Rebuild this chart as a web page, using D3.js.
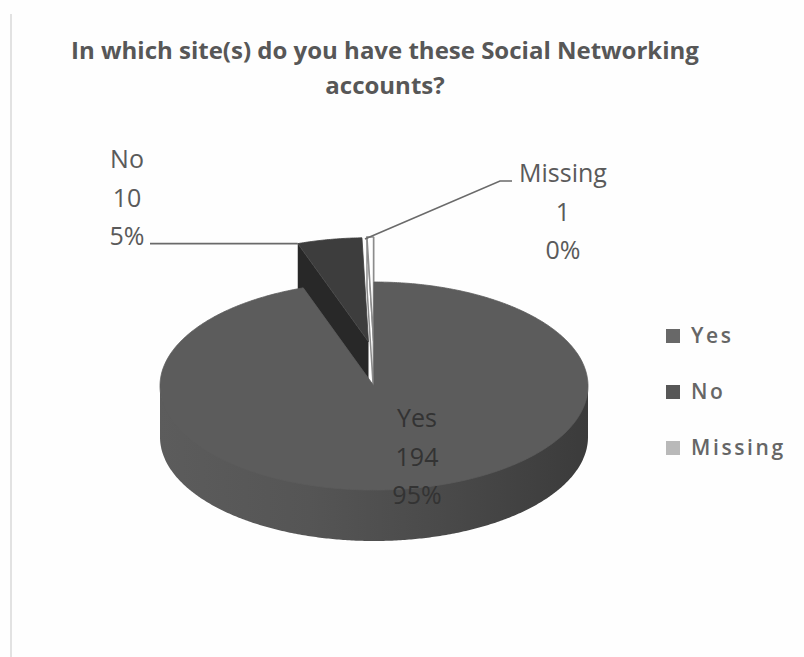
<!DOCTYPE html>
<html>
<head>
<meta charset="utf-8">
<script src="https://cdn.jsdelivr.net/npm/d3@7"></script>
<style>
  html, body { margin: 0; padding: 0; background: #ffffff; }
  svg { display: block; }
</style>
</head>
<body>
<svg id="chart" width="804" height="657"></svg>
<script>
// Survey answers
const categories = ["Yes", "No", "Missing"];
const counts = [194, 10, 1];
const titleLines = ["In which site(s) do you have these Social Networking", "accounts?"];

// Series colours (top face); the outer wall uses a shaded gradient
const topColors = ["#5c5c5c", "#3d3d3d", "#ffffff"];
const sideColors = ["#474747", "#2c2c2c", "#ffffff"];
const legendColors = ["#686868", "#575757", "#b9b9b9"];
const explodeSlices = [false, true, true];

const W = 804, H = 657;
const svg = d3.select("#chart");

svg.append("rect").attr("width", W).attr("height", H).attr("fill", "#fefefe");
// chart area edge on the left
svg.append("line").attr("x1", 11).attr("x2", 11).attr("y1", 14).attr("y2", H)
  .attr("stroke", "#e2e2e2").attr("stroke-width", 2);

// Title
const title = svg.append("text")
  .attr("font-family", "'Open Sans', sans-serif")
  .attr("font-weight", 700)
  .attr("font-size", 24)
  .attr("fill", "#575757")
  .attr("text-anchor", "middle");
title.append("tspan").attr("x", 385).attr("y", 59).text(titleLines[0]);
title.append("tspan").attr("x", 385).attr("y", 94).text(titleLines[1]);

// 3D elliptical pie geometry
const cx = 374, cy = 386, rx = 214, ry = 104, depth = 51;
const explodeX = 30, explodeY = 45;

// shading of the outer wall: lit on the left, darker to the right
const defs = svg.append("defs");
const grad = defs.append("linearGradient").attr("id", "wallShade")
  .attr("gradientUnits", "userSpaceOnUse")
  .attr("x1", cx - rx).attr("x2", cx + rx).attr("y1", 0).attr("y2", 0);
[[0, "#5c5c5c"], [0.35, "#555555"], [0.65, "#4a4a4a"], [1, "#3b3b3b"]].forEach(([o, c]) =>
  grad.append("stop").attr("offset", o).attr("stop-color", c));

const total = d3.sum(counts);
const pct = d3.format(".0%");

const pie = d3.pie().sort(null).value(d => d.value);
const arcs = pie(categories.map((c, i) => ({ name: c, value: counts[i], i })));

function offsetOf(a) {
  if (!explodeSlices[a.data.i]) return [0, 0];
  const mid = (a.startAngle + a.endAngle) / 2;
  return [Math.sin(mid) * explodeX, -Math.cos(mid) * explodeY];
}
function rim(angle, off, dy = 0) {
  return [cx + rx * Math.sin(angle) + off[0], cy - ry * Math.cos(angle) + off[1] + dy];
}
function arcPoints(a0, a1, off, dy = 0) {
  const n = Math.max(2, Math.ceil(Math.abs(a1 - a0) / 0.01));
  return d3.range(n + 1).map(k => rim(a0 + (a1 - a0) * k / n, off, dy));
}
const line = d3.line();
const closed = pts => line(pts) + "Z";

const pieG = svg.append("g");

function drawSlice(a) {
  const i = a.data.i;
  const off = offsetOf(a);
  const apex = [cx + off[0], cy + off[1]];
  const apexB = [apex[0], apex[1] + depth];
  const g = pieG.append("g");
  const stroke = i === 2 ? "#8c8c8c" : "none";
  const sw = i === 2 ? 1.5 : 0;

  // cut face at the start angle
  const s0 = rim(a.startAngle, off), s0b = rim(a.startAngle, off, depth);
  g.append("path").attr("d", closed([apex, s0, s0b, apexB]))
    .attr("fill", i === 2 ? "#ffffff" : d3.color(sideColors[i]).darker(0.25))
    .attr("stroke", stroke).attr("stroke-width", sw).attr("stroke-linejoin", "round");

  if (i === 2) {
    const e0 = rim(a.endAngle, off), e0b = rim(a.endAngle, off, depth);
    g.append("path").attr("d", closed([apex, e0, e0b, apexB]))
      .attr("fill", "#ffffff").attr("stroke", stroke).attr("stroke-width", sw);
  }

  // outer wall, front half only (angles between pi/2 and 3pi/2)
  const f0 = Math.max(a.startAngle, Math.PI / 2), f1 = Math.min(a.endAngle, 3 * Math.PI / 2);
  if (f1 > f0) {
    const topArc = arcPoints(f0, f1, off, -2);
    const botArc = arcPoints(f1, f0, off, depth);
    g.append("path").attr("d", closed(topArc.concat(botArc)))
      .attr("fill", i === 0 ? "url(#wallShade)" : sideColors[i]);
  }

  // top face
  g.append("path").attr("d", closed([apex].concat(arcPoints(a.startAngle, a.endAngle, off))))
    .attr("fill", topColors[i])
    .attr("stroke", i === 2 ? stroke : topColors[i])
    .attr("stroke-width", i === 2 ? sw : 0.8)
    .attr("stroke-linejoin", "round");
}

// back (exploded) slices first, then the large front slice
[arcs[1], arcs[2], arcs[0]].forEach(drawSlice);

// Data labels: name, count, percentage
const labelFont = "'Open Sans', sans-serif";
const labelPos = [
  { x: 417, y: 427, fill: "#333333" },
  { x: 127, y: 168, fill: "#5a5a5a" },
  { x: 563, y: 182, fill: "#5a5a5a" }
];
arcs.forEach(a => {
  const i = a.data.i, p = labelPos[i];
  const t = svg.append("text")
    .attr("font-family", labelFont).attr("font-size", 25)
    .attr("fill", p.fill).attr("text-anchor", "middle");
  [a.data.name, String(a.data.value), pct(a.data.value / total)].forEach((s, k) => {
    t.append("tspan").attr("x", p.x).attr("y", p.y + k * 38.5).text(s);
  });
});

// Leader lines from the labels to the exploded slices
const noArc = arcs[1], missArc = arcs[2];
const noRim = rim(noArc.startAngle, offsetOf(noArc));
const missRim = rim(missArc.startAngle, offsetOf(missArc));
svg.append("path")
  .attr("d", line([[150, noRim[1]], noRim]))
  .attr("fill", "none").attr("stroke", "#6a6a6a").attr("stroke-width", 1.6);
svg.append("path")
  .attr("d", line([[missRim[0] - 2, missRim[1] + 2], [500, 181], [512, 181]]))
  .attr("fill", "none").attr("stroke", "#6a6a6a").attr("stroke-width", 1.6);

// Legend
const legend = svg.append("g");
categories.forEach((c, i) => {
  const y = 343 + i * 56;
  legend.append("rect").attr("x", 666).attr("y", y - 14).attr("width", 14).attr("height", 14)
    .attr("fill", legendColors[i]);
  legend.append("text").attr("x", 691).attr("y", y)
    .attr("font-family", labelFont).attr("font-weight", 600).attr("font-size", 21)
    .attr("letter-spacing", 2.6).attr("fill", "#666666").text(c);
});
</script>
</body>
</html>
